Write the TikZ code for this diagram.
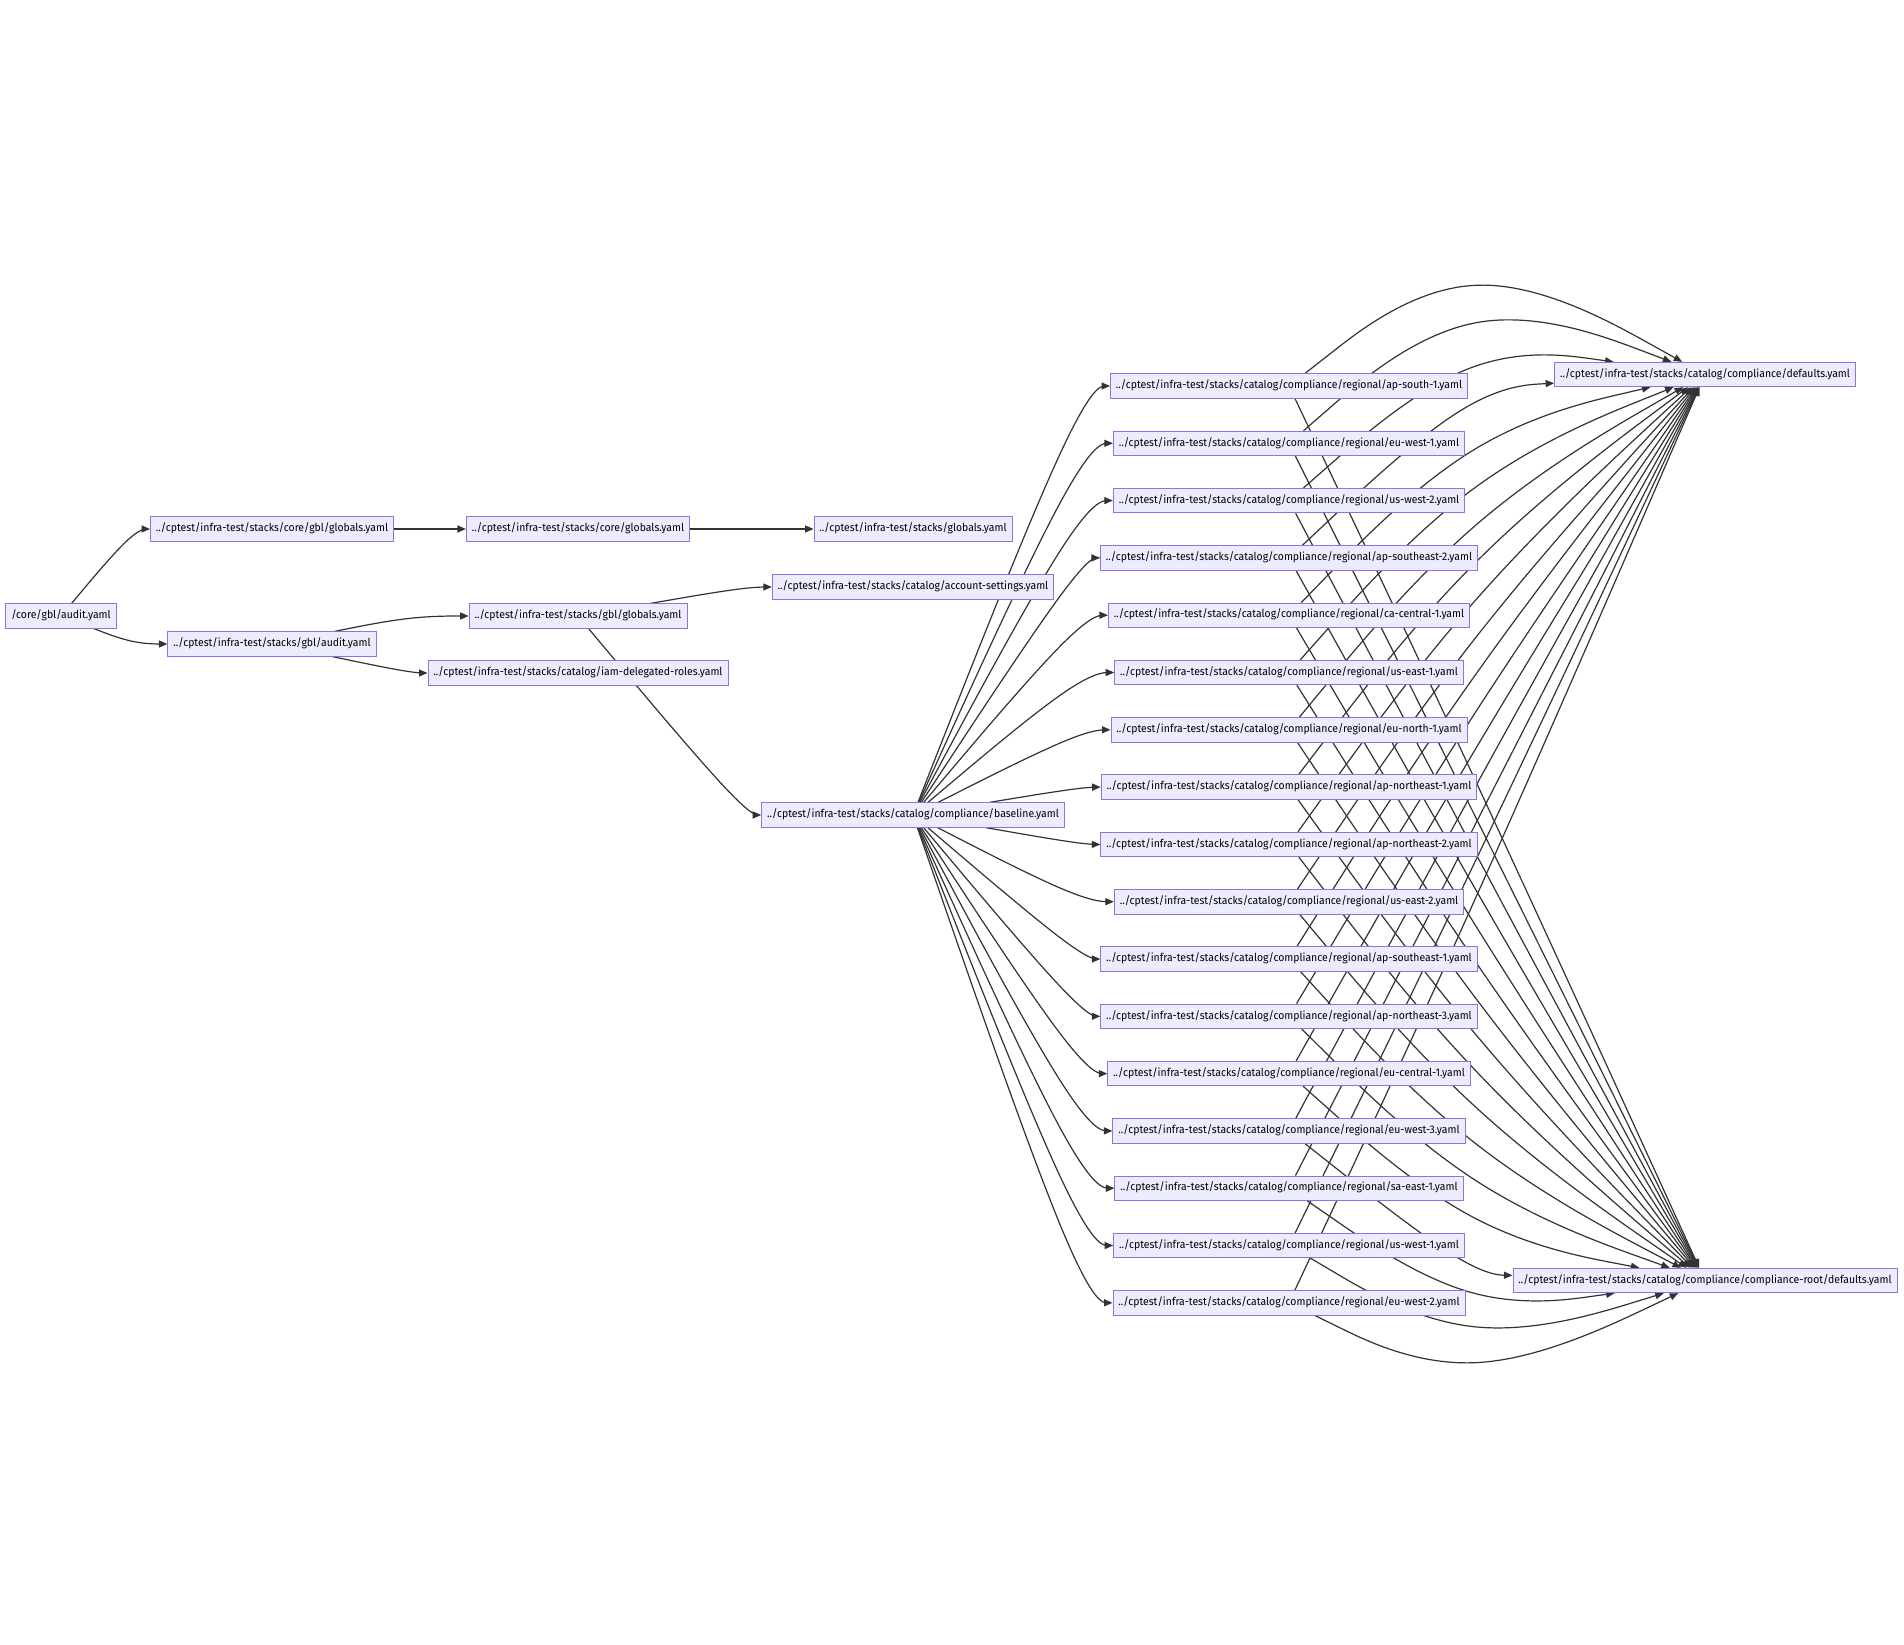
\documentclass[tikz,border=0pt]{standalone}
\usepackage{fontspec}
\setmainfont{Fira Sans}[FakeStretch=0.95]
\usetikzlibrary{arrows.meta,calc}
\pgfdeclarelayer{bg}
\pgfdeclarelayer{edgelayer}
\pgfsetlayers{bg,edgelayer,main}
\definecolor{boxfill}{HTML}{ECECFF}
\definecolor{boxline}{HTML}{9370DB}
\definecolor{edgecol}{HTML}{333333}

% basis spline from node #1 through the guide point #2 into node #3
\newcommand\bspline[3]{%
  \path (#1) -- (#2) coordinate[pos=0] (sA);
  \path (#3) -- (#2) coordinate[pos=0] (sC);
  \coordinate (sAC) at ($(sA)!.5!(sC)$);
  \coordinate (sM) at ($(#2)!1/3!(sAC)$);
  \draw[edge] (#1) -- ($(sA)!1/6!(#2)$)
    .. controls ($(sA)!1/3!(#2)$) and ($(sA)!2/3!(#2)$) .. (sM)
    .. controls ($(#2)!1/3!(sC)$) and ($(#2)!2/3!(sC)$) .. ($(#2)!5/6!(sC)$)
    -- (#3);
}

\begin{document}
\begin{tikzpicture}[x=1pt,y=-1pt,
  file/.style={draw=boxline, fill=boxfill, line width=0.8pt,
    inner xsep=5.5pt, inner ysep=0pt, minimum height=24.5pt,
    text height=8pt, text depth=2.5pt,
    font=\fontsize{11}{13}\selectfont},
  edge/.style={draw=edgecol, line width=1.2pt,
    -{Triangle[length=8.5pt,width=7pt]}},
]
\begin{pgfonlayer}{bg}
  \fill[white] (0,0) rectangle (1904,1645);
\end{pgfonlayer}
\useasboundingbox (0,0) rectangle (1904,1645);

% left part
\node[file] (audit) at (61,616) {/core/gbl/audit.yaml};
\node[file] (cgg) at (272,529) {../cptest/infra-test/stacks/core/gbl/globals.yaml};
\node[file] (ga) at (272,644) {../cptest/infra-test/stacks/gbl/audit.yaml};
\node[file] (cg) at (578,529) {../cptest/infra-test/stacks/core/globals.yaml};
\node[file] (gg) at (578,616) {../cptest/infra-test/stacks/gbl/globals.yaml};
\node[file] (iam) at (578,673) {../cptest/infra-test/stacks/catalog/iam-delegated-roles.yaml};
\node[file] (sg) at (913,529) {../cptest/infra-test/stacks/globals.yaml};
\node[file] (acc) at (913,587) {../cptest/infra-test/stacks/catalog/account-settings.yaml};
\node[file] (base) at (913,815) {../cptest/infra-test/stacks/catalog/compliance/baseline.yaml};

% regional column
\foreach \name [count=\k from 0] in {ap-south-1,eu-west-1,us-west-2,ap-southeast-2,
  ca-central-1,us-east-1,eu-north-1,ap-northeast-1,ap-northeast-2,us-east-2,
  ap-southeast-1,ap-northeast-3,eu-central-1,eu-west-3,sa-east-1,us-west-1,eu-west-2}
  \node[file] (r\k) at (1289,386+57.3*\k)
    {../cptest/infra-test/stacks/catalog/compliance/regional/\name.yaml};

% targets
\node[file] (def) at (1705,374.5) {../cptest/infra-test/stacks/catalog/compliance/defaults.yaml};
\node[file] (root) at (1705,1280.5) {../cptest/infra-test/stacks/catalog/compliance/compliance-root/defaults.yaml};

\begin{pgfonlayer}{edgelayer}
  \coordinate (g) at (134,529); \bspline{audit}{g}{cgg}
  \coordinate (g) at (134,644); \bspline{audit}{g}{ga}
  \draw[edge] (cgg) -- (cg);
  \draw[edge] (cg) -- (sg);
  \coordinate (g) at (411,616); \bspline{ga}{g}{gg}
  \coordinate (g) at (411,673); \bspline{ga}{g}{iam}
  \coordinate (g) at (745,587); \bspline{gg}{g}{acc}
  \coordinate (g) at (745,815); \bspline{gg}{g}{base}
  \foreach \k/\dy in {0/244,1/286,2/342,3/388,4/429,5/469,6/510,7/550,8/591,
      9/632,10/672,11/713,12/753,13/794,14/835,15/875,16/916} {
    \pgfmathsetmacro\gy{386+57.3*\k}
    \coordinate (g) at (1082,\gy);
    \bspline{base}{g}{r\k}
    \coordinate (g) at (1470,\dy);
    \bspline{r\k}{g}{def}
    \pgfmathsetmacro\gy{766+39.1*\k}
    \coordinate (g) at (1470,\gy);
    \bspline{r\k}{g}{root}
  }
\end{pgfonlayer}
\end{tikzpicture}
\end{document}
